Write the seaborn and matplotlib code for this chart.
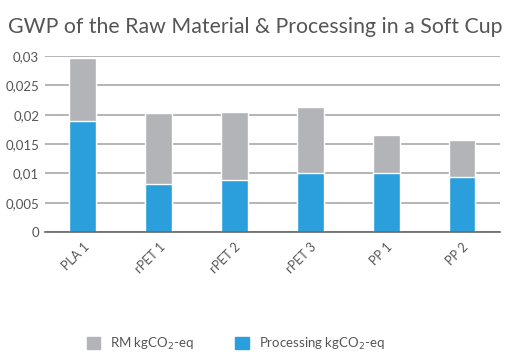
import matplotlib
matplotlib.use("Agg")
import matplotlib.pyplot as plt
import seaborn as sns
import pandas as pd
from matplotlib.patches import Patch

categories = ["PLA 1", "rPET 1", "rPET 2", "rPET 3", "PP 1", "PP 2"]
rm_values = [0.0108, 0.0121, 0.0116, 0.0113, 0.0065, 0.0063]
processing_values = [0.0189, 0.0082, 0.0089, 0.0100, 0.0100, 0.0094]
y_ticks = [0, 0.005, 0.01, 0.015, 0.02, 0.025, 0.03]
y_tick_labels = ["0", "0,005", "0,01", "0,015", "0,02", "0,025", "0,03"]

df = pd.DataFrame({"cat": categories, "rm": rm_values, "proc": processing_values})
df["total"] = df["rm"] + df["proc"]

sns.set_theme(style="white")
plt.rcParams["font.family"] = ["Lato", "DejaVu Sans"]

fig = plt.figure(figsize=(5.27, 3.55), dpi=100)
ax = fig.add_axes([0.085, 0.346, 0.864, 0.496])

gray = "#B3B4B7"
blue = "#2B9FDC"
sns.barplot(data=df, x="cat", y="total", color=gray, width=0.35, ax=ax, saturation=1)
sns.barplot(data=df, x="cat", y="proc", color=blue, width=0.35, ax=ax, saturation=1)

ax.set_ylim(0, 0.03)
ax.set_yticks(y_ticks)
ax.set_yticklabels(y_tick_labels)
ax.set_xlabel("")
ax.set_ylabel("")
ax.yaxis.grid(True, color="#A8A8A8", linewidth=1.2)
ax.set_axisbelow(True)
for s in ["top", "right", "left"]:
    ax.spines[s].set_visible(False)
ax.spines["bottom"].set_color("#666666")
ax.spines["bottom"].set_linewidth(1.2)
ax.tick_params(axis="both", length=0, colors="#555555", labelsize=9.5)
ax.tick_params(axis="y", pad=4)
ax.tick_params(axis="x", pad=6)
plt.setp(ax.get_xticklabels(), rotation=45, ha="right", rotation_mode="anchor", fontsize=9)

fig.text(0.015, 0.925, "GWP of the Raw Material & Processing in a Soft Cup",
         fontsize=15.3, color="#555555", ha="left", va="center")

handles = [Patch(color=gray, label="RM kgCO$_2$-eq"),
           Patch(color=blue, label="Processing kgCO$_2$-eq")]
fig.legend(handles=handles, loc="center left", bbox_to_anchor=(0.142, 0.032), ncol=2,
           frameon=False, fontsize=9.5, handlelength=1.0, handleheight=1.0,
           handletextpad=0.8, columnspacing=3.1, labelcolor="#555555")

fig.savefig("out.png", dpi=100)
